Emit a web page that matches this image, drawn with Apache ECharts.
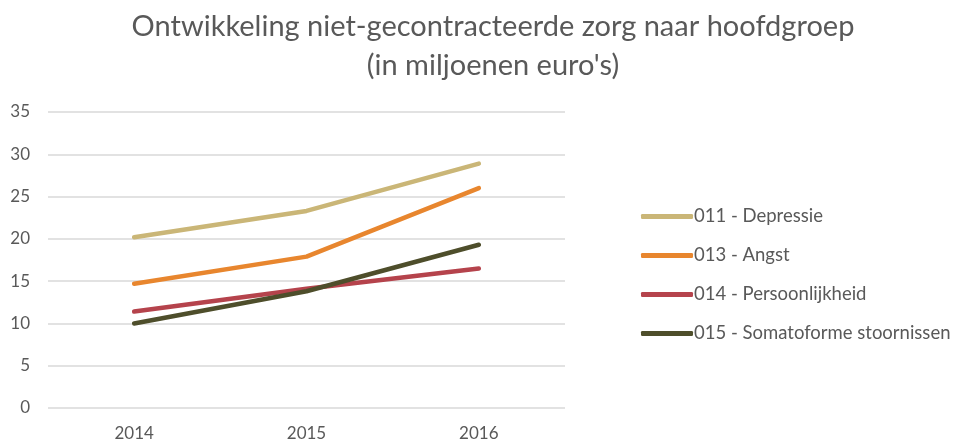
<!DOCTYPE html>
<html>
<head>
<meta charset="utf-8">
<script src="https://cdn.jsdelivr.net/npm/echarts@6/dist/echarts.min.js"></script>
<style>
  html, body { margin: 0; padding: 0; background: #fff; }
  #chart { width: 960px; height: 445px; }
</style>
</head>
<body>
<div id="chart"></div>
<script>
const years = ['2014', '2015', '2016']
const depressie = [20.2, 23.3, 28.9]
const angst = [14.7, 17.9, 26.0]
const persoonlijkheid = [11.4, 14.1, 16.5]
const somatoforme = [10.0, 13.8, 19.3]

const seriesNames = ['011 - Depressie', '013 - Angst', '014 - Persoonlijkheid', '015 - Somatoforme stoornissen']
const seriesData = [depressie, angst, persoonlijkheid, somatoforme]
const colors = ['#CAB677', '#E8862E', '#B5434C', '#4E4E2B']
const textColor = '#595959'
const font = 'Lato, "Open Sans", sans-serif'

const chart = echarts.init(document.getElementById('chart'))
chart.setOption({
  animation: false,
  color: colors,
  title: {
    text: 'Ontwikkeling niet-gecontracteerde zorg naar hoofdgroep\n(in miljoenen euro\'s)',
    left: 488,
    top: 2,
    textAlign: 'center',
    textStyle: { color: textColor, fontFamily: font, fontSize: 29, fontWeight: 'normal', lineHeight: 39 }
  },
  legend: {
    orient: 'vertical',
    left: 636,
    top: 202,
    itemGap: 20,
    itemWidth: 52,
    itemHeight: 5,
    icon: 'roundRect',
    textStyle: { color: textColor, fontFamily: font, fontSize: 18.5, padding: [0, 0, 0, -4] },
    data: seriesNames
  },
  grid: { left: 48, top: 112, width: 517, height: 296, containLabel: false },
  xAxis: {
    type: 'category',
    data: years,
    boundaryGap: true,
    axisLine: { show: false },
    axisTick: { show: false },
    axisLabel: { color: textColor, fontFamily: font, fontSize: 17, margin: 17 }
  },
  yAxis: {
    type: 'value',
    min: 0,
    max: 35,
    interval: 5,
    axisLine: { show: false },
    axisTick: { show: false },
    axisLabel: { color: textColor, fontFamily: font, fontSize: 17, margin: 18 },
    splitLine: { lineStyle: { color: '#D9D9D9', width: 1.5 } }
  },
  series: seriesNames.map((name, i) => ({
    name,
    type: 'line',
    data: seriesData[i],
    symbol: 'none',
    lineStyle: { width: 4.5, cap: 'round', join: 'round' }
  }))
})
</script>
</body>
</html>
